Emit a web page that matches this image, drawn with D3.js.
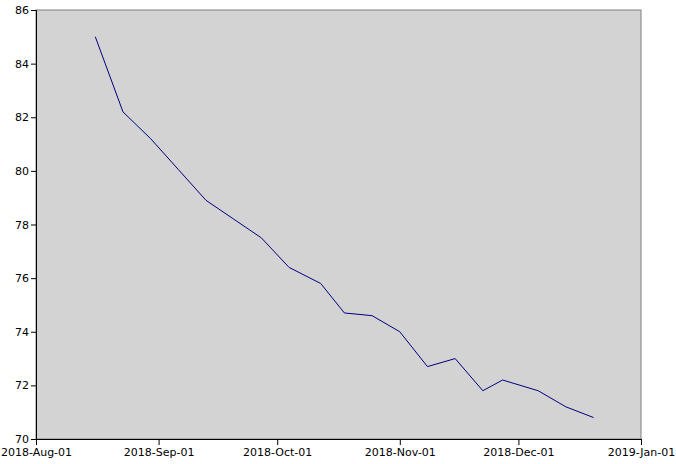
<!DOCTYPE html>
<html><head><meta charset="utf-8">
<script src="https://cdn.jsdelivr.net/npm/d3@7"></script>
<style>body{margin:0;background:#fff;} svg{display:block;}</style>
</head><body>
<svg id="c" width="676" height="464"></svg>
<script>
const dates = ["2018-08-16","2018-08-23","2018-08-30","2018-09-06","2018-09-13","2018-09-20","2018-09-27","2018-10-04","2018-10-12","2018-10-18","2018-10-25","2018-11-01","2018-11-08","2018-11-15","2018-11-22","2018-11-27","2018-12-06","2018-12-13","2018-12-20"];
const values = [85.0,82.2,81.2,80.05,78.9,78.2,77.5,76.4,75.8,74.7,74.6,74.0,72.7,73.0,71.8,72.2,71.8,71.2,70.8];
const xDomain = ["2018-08-01","2019-01-01"];
const yDomain = [70,86];
const yTicks = [70,72,74,76,78,80,82,84,86];

const svg = d3.select("#c");
const m = {l:36, r:35, t:10, b:25};
const W = 676, H = 464;
const parse = d3.utcParse("%Y-%m-%d");
const x = d3.scaleUtc().domain(xDomain.map(parse)).range([m.l, W - m.r]);
const y = d3.scaleLinear().domain(yDomain).range([H - m.b, m.t]);

svg.append("rect").attr("x", m.l).attr("y", m.t)
  .attr("width", W - m.r - m.l).attr("height", H - m.b - m.t)
  .attr("fill", "#d3d3d3").attr("stroke", "#808080").attr("stroke-width", 1);

const line = d3.line().x((d,i)=>x(parse(dates[i]))).y(d=>y(d));
svg.append("path").datum(values).attr("d", line)
  .attr("fill","none").attr("stroke","#000080").attr("stroke-width",1);

const xa = svg.append("g").attr("transform",`translate(0,${H-m.b})`)
  .call(d3.axisBottom(x).ticks(d3.utcMonth.every(1)).tickFormat(d3.utcFormat("%Y-%b-%d")).tickSizeOuter(0).tickSize(6));
const ya = svg.append("g").attr("transform",`translate(${m.l},0)`)
  .call(d3.axisLeft(y).tickValues(yTicks).tickFormat(d3.format("d")).tickSizeOuter(0).tickSize(5));
[xa,ya].forEach(g=>{
  g.selectAll("text").attr("font-family","DejaVu Sans").attr("font-size","11px").attr("fill","#000");
  g.selectAll("line,path").attr("stroke","#000");
});
xa.selectAll("text").attr("dy","0.71em").attr("y",9);
ya.selectAll("text").attr("x",-7);
</script>
</body></html>
